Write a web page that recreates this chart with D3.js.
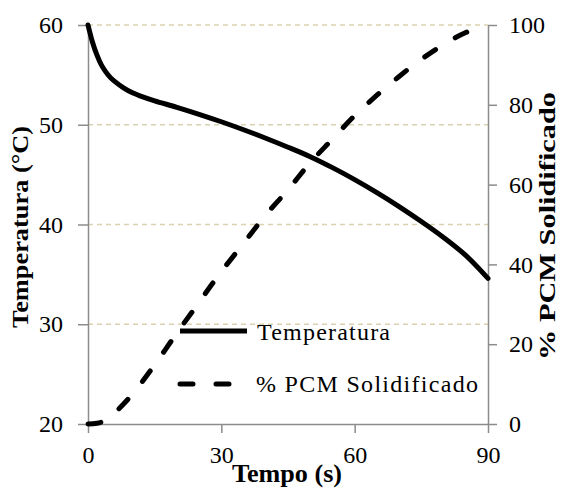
<!DOCTYPE html>
<html>
<head>
<meta charset="utf-8">
<script src="https://cdn.jsdelivr.net/npm/d3@7"></script>
</head>
<body style="margin:0">
<svg id="chart" width="562" height="488"></svg>
<script>
// Cooling curve: time (s) and temperature (°C)
const tempTime = [0, 1, 2, 3, 4, 5, 6, 8, 10, 12, 15, 20, 25, 30, 35, 40, 45, 50, 55, 60, 65, 70, 75, 80, 85, 90];
const temperature = [60, 58.3, 57.0, 56.0, 55.3, 54.75, 54.35, 53.7, 53.2, 52.85, 52.4, 51.75, 51.05, 50.3, 49.5, 48.65, 47.75, 46.8, 45.7, 44.5, 43.2, 41.8, 40.3, 38.7, 36.9, 34.6];

// Solidified fraction of the PCM (%)
const pcmTime = [0, 2, 4, 6, 8, 10, 12, 14, 16, 18, 20, 22, 25, 28, 30, 35, 40, 45, 50, 55, 60, 65, 70, 75, 80, 85, 90];
const pcmSolid = [0, 0.2, 0.9, 2.8, 5.0, 7.5, 10.3, 13.3, 16.4, 19.6, 22.8, 25.9, 30.5, 35.2, 38.2, 45.3, 52.4, 58.7, 65.5, 71.4, 77.3, 82.4, 87.1, 91.4, 95.1, 98.1, 100];

// Axis ticks
const timeTicks = [0, 30, 60, 90];
const tempTicks = [20, 30, 40, 50, 60];
const pcmTicks = [0, 20, 40, 60, 80, 100];

// Text
const seriesNames = ["Temperatura", "% PCM Solidificado"];
const xTitle = "Tempo (s)";
const yTitle = "Temperatura (°C)";
const y2Title = "% PCM Solidificado";

const serif = '"Liberation Serif"';

const svg = d3.select("#chart");
const plot = { left: 88, right: 488, top: 25, bottom: 424 };

const x = d3.scaleLinear().domain([0, 90]).range([plot.left, plot.right]);
const yT = d3.scaleLinear().domain([20, 60]).range([plot.bottom, plot.top]);
const yP = d3.scaleLinear().domain([0, 100]).range([plot.bottom, plot.top]);

const axisColor = "#8c8c8c";
const gridColor = "#d9d2b0";

// Horizontal gridlines at the temperature ticks
svg.append("g")
  .selectAll("line")
  .data(tempTicks.filter(d => d > 20))
  .join("line")
  .attr("x1", plot.left).attr("x2", plot.right)
  .attr("y1", d => yT(d)).attr("y2", d => yT(d))
  .attr("stroke", gridColor)
  .attr("stroke-width", 1.3)
  .attr("stroke-dasharray", "5,4");

// Axes
function styleAxis(g) {
  g.attr("font-family", null).attr("font-size", 24);
  g.select(".domain").attr("stroke", axisColor).attr("stroke-width", 1.5);
  g.selectAll(".tick line").attr("stroke", axisColor).attr("stroke-width", 1.5);
  g.selectAll(".tick text")
    .attr("font-size", 24)
    .attr("fill", "#000")
    .style("font-family", serif);
}

svg.append("g")
  .attr("transform", `translate(0,${plot.bottom})`)
  .call(d3.axisBottom(x).tickValues(timeTicks).tickSize(9).tickSizeOuter(0).tickPadding(22))
  .call(styleAxis)
  .call(g => g.selectAll(".tick text").attr("dy", "0.35em"));

svg.append("g")
  .attr("transform", `translate(${plot.left},0)`)
  .call(d3.axisLeft(yT).tickValues(tempTicks).tickSize(10).tickSizeOuter(0).tickPadding(15))
  .call(styleAxis);

svg.append("g")
  .attr("transform", `translate(${plot.right},0)`)
  .call(d3.axisRight(yP).tickValues(pcmTicks).tickSize(9).tickSizeOuter(0).tickPadding(12))
  .call(styleAxis);

// Series
const tempLine = d3.line()
  .x((d, i) => x(tempTime[i]))
  .y(d => yT(d))
  .curve(d3.curveCatmullRom.alpha(0.5));

const pcmLine = d3.line()
  .x((d, i) => x(pcmTime[i]))
  .y(d => yP(d))
  .curve(d3.curveCatmullRom.alpha(0.5));

svg.append("path")
  .datum(pcmSolid)
  .attr("d", pcmLine)
  .attr("fill", "none")
  .attr("stroke", "#000")
  .attr("stroke-width", 5)
  .attr("stroke-linecap", "round")
  .attr("stroke-dasharray", "13,23");

svg.append("path")
  .datum(temperature)
  .attr("d", tempLine)
  .attr("fill", "none")
  .attr("stroke", "#000")
  .attr("stroke-width", 5)
  .attr("stroke-linecap", "round");

// Legend
const legend = svg.append("g");
legend.append("line")
  .attr("x1", 180).attr("x2", 247).attr("y1", 331).attr("y2", 331)
  .attr("stroke", "#000").attr("stroke-width", 5);
legend.append("text")
  .attr("x", 257).attr("y", 340)
  .attr("font-size", 24)
  .style("font-family", serif)
  .attr("textLength", 133).attr("lengthAdjust", "spacing")
  .text(seriesNames[0]);

legend.append("line")
  .attr("x1", 180).attr("x2", 247).attr("y1", 384).attr("y2", 384)
  .attr("stroke", "#000").attr("stroke-width", 5)
  .attr("stroke-linecap", "round")
  .attr("stroke-dasharray", "13,23");
legend.append("text")
  .attr("x", 256).attr("y", 392)
  .attr("font-size", 24)
  .style("font-family", serif)
  .attr("textLength", 222).attr("lengthAdjust", "spacing")
  .text(seriesNames[1]);

// Axis titles
svg.append("text")
  .attr("x", 287).attr("y", 482)
  .attr("text-anchor", "middle")
  .attr("font-size", 26).attr("font-weight", "bold")
  .style("font-family", serif)
  .attr("textLength", 110).attr("lengthAdjust", "spacingAndGlyphs")
  .text(xTitle);

svg.append("text")
  .attr("transform", "translate(28,227) rotate(-90)")
  .attr("text-anchor", "middle")
  .attr("font-size", 23).attr("font-weight", "bold")
  .style("font-family", serif)
  .attr("textLength", 202).attr("lengthAdjust", "spacingAndGlyphs")
  .text(yTitle);

svg.append("text")
  .attr("transform", "translate(555,226) rotate(-90)")
  .attr("text-anchor", "middle")
  .attr("font-size", 23).attr("font-weight", "bold")
  .style("font-family", serif)
  .attr("textLength", 268).attr("lengthAdjust", "spacingAndGlyphs")
  .text(y2Title);
</script>
</body>
</html>
